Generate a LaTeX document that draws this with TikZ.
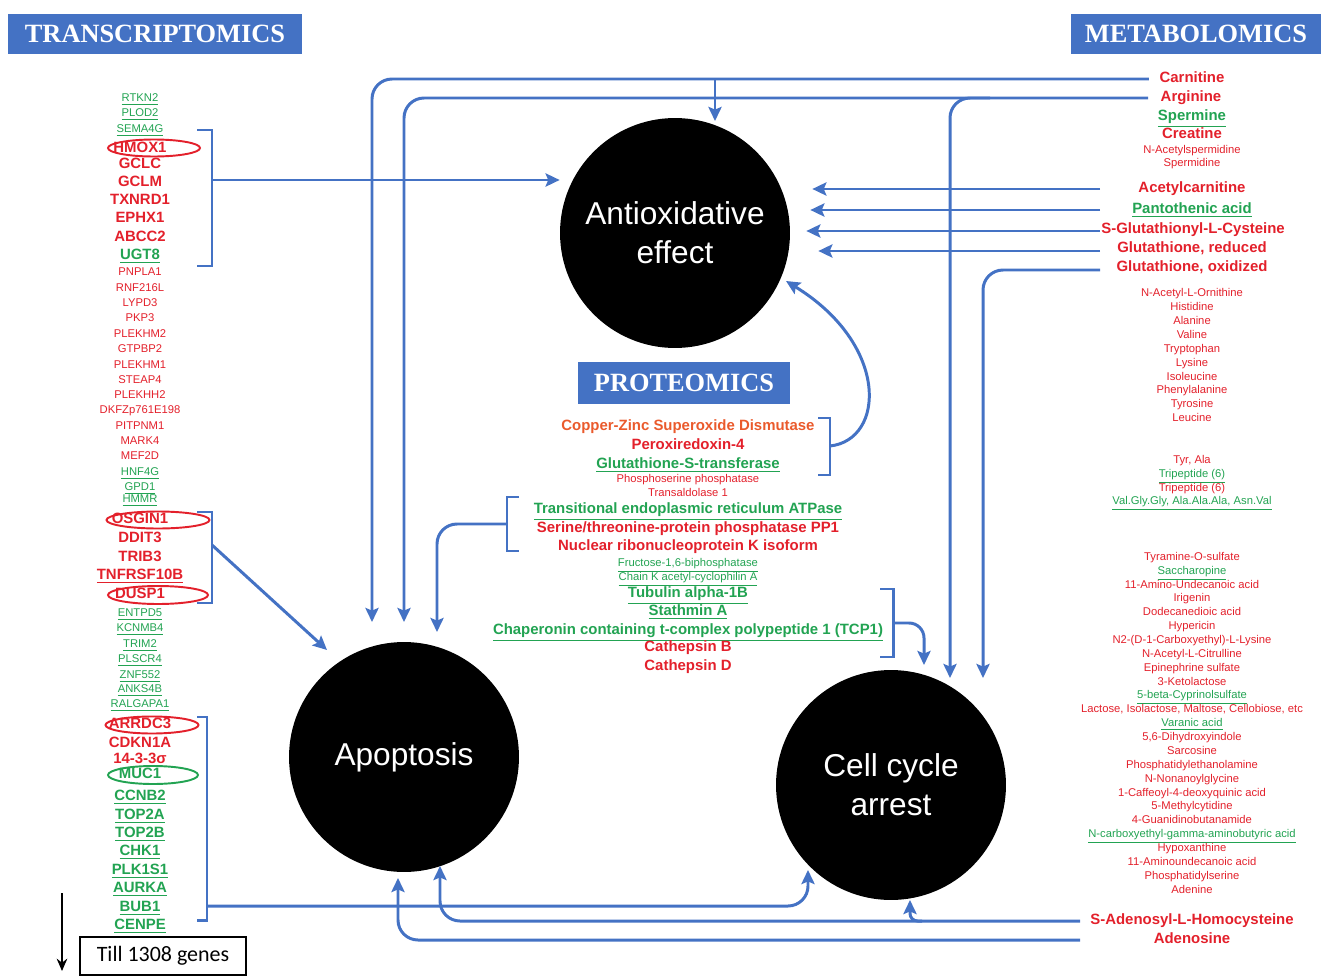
\documentclass[tikz,border=0pt]{standalone}
\usepackage{fontspec}
\setmainfont{Liberation Sans}
\newfontfamily\headfont{Liberation Serif}
\newfontfamily\tillfont{Carlito}
\usepackage{tikz}
\usetikzlibrary{arrows.meta,shapes.geometric}
\definecolor{hdblue}{HTML}{4472C4}
\definecolor{pathblue}{HTML}{4472C4}
\definecolor{upred}{HTML}{E3202B}
\definecolor{downgreen}{HTML}{22A352}
\definecolor{sodorange}{HTML}{EA5A2C}
\newcommand{\linethick}{1.7pt}
\newcommand{\px}{0.02cm}

\begin{document}
\begin{tikzpicture}[x=0.02cm, y=-0.02cm,
  every node/.style={inner sep=0pt},
  rb/.style={text=upred, text height=6.2pt, text depth=1.8pt, font=\bfseries\fontsize{8.5}{9}\selectfont},
  rs/.style={text=upred, text height=4.8pt, text depth=1.4pt, font=\fontsize{6.4}{7}\selectfont},
  gb/.style={rb, text=downgreen},
  gs/.style={rs, text=downgreen},
  head/.style={fill=hdblue, text=white, font=\headfont\bfseries\fontsize{15}{16}\selectfont, minimum height=0.82cm},
  effect/.style={circle, fill=black, text=white, minimum size=4.6cm, align=center, font=\fontsize{18}{22}\selectfont},
  link/.style={draw=pathblue, line width=\linethick, rounded corners=0.4cm},
  arr/.style={link, -{Stealth[length=8pt,width=7.5pt,inset=1.5pt]}},
  brace/.style={draw=pathblue, line width=\linethick},
  ring/.style={ellipse, draw=upred, line width=1.1pt}]
\useasboundingbox (0,0) rectangle (1323,977);

% headers
\node[head, minimum width=5.88cm] (transhead) at (155,34) {TRANSCRIPTOMICS};
\node[head, minimum width=5cm] (metahead) at (1196,34) {METABOLOMICS};
\node[head, minimum width=4.24cm, minimum height=0.86cm] (protehead) at (684,383) {PROTEOMICS};

% effects
\node[effect] (anti) at (675,233) {Antioxidative\\effect};
\node[effect] (apop) at (404,757) {Apoptosis};
\node[effect] (cell) at (891,785) {Cell cycle\\arrest};

% transcriptomics
\node[gs] (rtkn) at (140,99) {\underline{RTKN2}};
\node[gs] (plod) at (140,114) {\underline{PLOD2}};
\node[gs] (sema) at (140,130) {\underline{SEMA4G}};
\node[rb] (hmox) at (140,149) {HMOX1};
\node[rb] (gclc) at (140,165) {GCLC};
\node[rb] (gclm) at (140,183) {GCLM};
\node[rb] (txnrd) at (140,201) {TXNRD1};
\node[rb] (ephx) at (140,219) {EPHX1};
\node[rb] (abcc) at (140,238) {ABCC2};
\node[gb] (ugt) at (140,256) {\underline{UGT8}};
\node[rs] (pnpla) at (140,273) {PNPLA1};
\node[rs] (rnf) at (140,289) {RNF216L};
\node[rs] (lypd) at (140,304) {LYPD3};
\node[rs] (pkp) at (140,319) {PKP3};
\node[rs] (plekhmb) at (140,335) {PLEKHM2};
\node[rs] (gtpbp) at (140,350) {GTPBP2};
\node[rs] (plekhma) at (140,366) {PLEKHM1};
\node[rs] (steap) at (140,381) {STEAP4};
\node[rs] (plekhh) at (140,396) {PLEKHH2};
\node[rs] (dkfz) at (140,411) {DKFZp761E198};
\node[rs] (pitpnm) at (140,427) {PITPNM1};
\node[rs] (mark) at (140,442) {MARK4};
\node[rs] (mef) at (140,457) {MEF2D};
\node[gs] (hnf) at (140,473) {\underline{HNF4G}};
\node[gs] (gpd) at (140,488) {\underline{GPD1}};
\node[gs] (hmmr) at (140,500) {\underline{HMMR}};
\node[rb] (osgin) at (140,520) {OSGIN1};
\node[rb] (ddit) at (140,539) {DDIT3};
\node[rb] (trib) at (140,558) {TRIB3};
\node[rb] (tnfrsf) at (140,576) {\underline{TNFRSF10B}};
\node[rb] (dusp) at (140,595) {DUSP1};
\node[gs] (entpd) at (140,614) {\underline{ENTPD5}};
\node[gs] (kcnmb) at (140,629) {\underline{KCNMB4}};
\node[gs] (trim) at (140,645) {\underline{TRIM2}};
\node[gs] (plscr) at (140,660) {\underline{PLSCR4}};
\node[gs] (znf) at (140,676) {\underline{ZNF552}};
\node[gs] (anks) at (140,690) {\underline{ANKS4B}};
\node[gs] (ralgapa) at (140,705) {\underline{RALGAPA1}};
\node[rb] (arrdc) at (140,725) {ARRDC3};
\node[rb] (cdkn) at (140,744) {CDKN1A};
\node[rb] (sigma) at (140,760) {14-3-3σ};
\node[gb] (muc) at (140,775) {MUC1};
\node[gb] (ccnb) at (140,797) {\underline{CCNB2}};
\node[gb] (topa) at (140,816) {\underline{TOP2A}};
\node[gb] (topb) at (140,834) {\underline{TOP2B}};
\node[gb] (chk) at (140,852) {\underline{CHK1}};
\node[gb] (plk) at (140,871) {\underline{PLK1S1}};
\node[gb] (aurka) at (140,889) {\underline{AURKA}};
\node[gb] (bub) at (140,908) {\underline{BUB1}};
\node[gb] (cenpe) at (140,926) {\underline{CENPE}};
\node[ring, minimum width=92*\px, minimum height=17*\px] (hmoxring) at (154,148) {};
\node[ring, minimum width=103*\px, minimum height=17*\px] (osginring) at (158,520) {};
\node[ring, minimum width=100*\px, minimum height=18*\px] (duspring) at (158,595) {};
\node[ring, minimum width=93*\px, minimum height=17*\px] (arrdcring) at (152,725) {};
\node[ring, draw=downgreen, minimum width=90*\px, minimum height=18*\px] (mucring) at (153,775) {};
\node[draw, line width=0.9pt, minimum width=3.32cm, minimum height=0.76cm, font=\tillfont\fontsize{12.5}{14}\selectfont] (till) at (163,956) {Till 1308 genes};
\coordinate (listtop) at (62,893);
\coordinate (listend) at (62,971);
\draw[line width=1.2pt, -{Stealth[length=7pt,width=6pt]}] (listtop) -- (listend);

% proteomics
\node[rb, text=sodorange] (sod) at (688,427) {Copper-Zinc Superoxide Dismutase};
\node[rb] (prdx) at (688,446) {Peroxiredoxin-4};
\node[gb] (gst) at (688,465) {\underline{Glutathione-S-transferase}};
\node[rs] (psph) at (688,480) {Phosphoserine phosphatase};
\node[rs] (taldo) at (688,494) {Transaldolase 1};
\node[gb] (vcp) at (688,510) {\underline{Transitional endoplasmic reticulum ATPase}};
\node[rb] (ppp) at (688,529) {Serine/threonine-protein phosphatase PP1};
\node[rb] (hnrnpk) at (688,547) {Nuclear ribonucleoprotein K isoform};
\node[gs] (fbp) at (688,564) {\underline{Fructose-1,6-biphosphatase}};
\node[gs] (cyclo) at (688,578) {\underline{Chain K acetyl-cyclophilin A}};
\node[gb] (tuba) at (688,594) {\underline{Tubulin alpha-1B}};
\node[gb] (stmn) at (688,612) {\underline{Stathmin A}};
\node[gb] (tcp) at (688,631) {\underline{Chaperonin containing t-complex polypeptide 1 (TCP1)}};
\node[rb] (ctsb) at (688,648) {Cathepsin B};
\node[rb] (ctsd) at (688,667) {Cathepsin D};

% metabolomics
\node[rb] (carn) at (1192,79) {Carnitine};
\node[rb] (argi) at (1191,98) {Arginine};
\node[gb] (sperm) at (1192,117) {\underline{Spermine}};
\node[rb] (creat) at (1192,135) {Creatine};
\node[rs] (acspd) at (1192,151) {N-Acetylspermidine};
\node[rs] (spd) at (1192,164) {Spermidine};
\node[rb] (acetyl) at (1192,189) {Acetylcarnitine};
\node[gb] (panto) at (1192,210) {\underline{Pantothenic acid}};
\node[rb] (glucys) at (1193,230) {S-Glutathionyl-L-Cysteine};
\node[rb] (glured) at (1192,249) {Glutathione, reduced};
\node[rb] (gluox) at (1192,268) {Glutathione, oxidized};
\node[rs] (acorn) at (1192,294) {N-Acetyl-L-Ornithine};
\node[rs] (his) at (1192,308) {Histidine};
\node[rs] (ala) at (1192,322) {Alanine};
\node[rs] (val) at (1192,336) {Valine};
\node[rs] (trp) at (1192,350) {Tryptophan};
\node[rs] (lys) at (1192,364) {Lysine};
\node[rs] (ile) at (1192,378) {Isoleucine};
\node[rs] (phe) at (1192,391) {Phenylalanine};
\node[rs] (tyr) at (1192,405) {Tyrosine};
\node[rs] (leu) at (1192,419) {Leucine};
\node[rs] (tyrala) at (1192,461) {Tyr, Ala};
\node[gs] (tripa) at (1192,475) {\underline{Tripeptide (6)}};
\node[rs] (tripb) at (1192,489) {Tripeptide (6)};
\node[gs] (valgly) at (1192,502) {\underline{Val.Gly.Gly, Ala.Ala.Ala, Asn.Val}};
\node[rs] (tyram) at (1192,558) {Tyramine-O-sulfate};
\node[gs] (sacch) at (1192,572) {\underline{Saccharopine}};
\node[rs] (amund) at (1192,586) {11-Amino-Undecanoic acid};
\node[rs] (irig) at (1192,599) {Irigenin};
\node[rs] (dodec) at (1192,613) {Dodecanedioic acid};
\node[rs] (hyper) at (1192,627) {Hypericin};
\node[rs] (carbox) at (1192,641) {N2-(D-1-Carboxyethyl)-L-Lysine};
\node[rs] (citr) at (1192,655) {N-Acetyl-L-Citrulline};
\node[rs] (epin) at (1192,669) {Epinephrine sulfate};
\node[rs] (ketol) at (1192,683) {3-Ketolactose};
\node[gs] (cyprin) at (1192,696) {\underline{5-beta-Cyprinolsulfate}};
\node[rs] (lact) at (1192,710) {Lactose, Isolactose, Maltose, Cellobiose, etc};
\node[gs] (varan) at (1192,724) {\underline{Varanic acid}};
\node[rs] (dhi) at (1192,738) {5,6-Dihydroxyindole};
\node[rs] (sarc) at (1192,752) {Sarcosine};
\node[rs] (pe) at (1192,766) {Phosphatidylethanolamine};
\node[rs] (nong) at (1192,780) {N-Nonanoylglycine};
\node[rs] (caff) at (1192,794) {1-Caffeoyl-4-deoxyquinic acid};
\node[rs] (mcyt) at (1192,807) {5-Methylcytidine};
\node[rs] (guan) at (1192,821) {4-Guanidinobutanamide};
\node[gs] (gaba) at (1192,835) {\underline{N-carboxyethyl-gamma-aminobutyric acid}};
\node[rs] (hypox) at (1192,849) {Hypoxanthine};
\node[rs] (amino) at (1192,863) {11-Aminoundecanoic acid};
\node[rs] (ps) at (1192,877) {Phosphatidylserine};
\node[rs] (adenine) at (1192,891) {Adenine};
\node[rb] (sam) at (1192,921) {S-Adenosyl-L-Homocysteine};
\node[rb] (adeno) at (1192,940) {Adenosine};

% brackets
\draw[brace] (197,130) -| (212,266) -- (197,266);
\draw[brace] (197,512) -| (212,603) -- (197,603);
\draw[brace] (197,717) -| (207,920) -- (197,920);
\draw[brace] (818,418) -| (830,475) -- (818,475);
\draw[brace] (519,497) -| (507,551) -- (519,551);
\draw[brace] (880,589) -| (893,657) -- (880,657);
\coordinate (hmoxbr) at (212,180);
\coordinate (osginbr) at (212,545);
\coordinate (arrdcbr) at (207,906);
\coordinate (sodbr) at (830,446);
\coordinate (vcpbr) at (507,524);
\coordinate (tubabr) at (893,623);

% arrow ends
\coordinate (apin0) at (327,650);
\coordinate (apin1) at (372,622);
\coordinate (apin2) at (404,622);
\coordinate (apin3) at (437,632);
\coordinate (apin4) at (440,866);
\coordinate (apin5) at (398,878);
\coordinate (antiin1) at (715,121);
\coordinate (antiin2) at (786,281);
\coordinate (ccin1) at (950,678);
\coordinate (ccin2) at (983,678);
\coordinate (ccin3) at (924,665);
\coordinate (ccin4) at (808,870);
\coordinate (ccin5) at (910,900);
\coordinate (carnsplit) at (715,79);
\coordinate (argisplit) at (990,98);
\coordinate (samsplit) at (922,921);
\coordinate (acetylout) at (1100,189);
\coordinate (pantoout) at (1100,210);
\coordinate (glucysout) at (1100,231);
\coordinate (gluredout) at (1100,251);
\coordinate (gluoxout) at (1100,270);
\coordinate (samout) at (1080,921);
\coordinate (adenoout) at (1080,940);

% connectors
\draw[arr, shorten <=6pt] (carn.west) -| (apin1);
\draw[arr] (carnsplit) -- (antiin1);
\draw[arr, shorten <=7pt] (argi.west) -| (apin2);
\draw[arr] (argisplit) -| (ccin1);
\draw[arr, shorten >=22*\px] (acetylout) -- (anti.east |- acetylout);
\draw[arr, shorten >=20*\px] (pantoout) -- (anti.east |- pantoout);
\draw[arr, shorten >=16*\px] (glucysout) -- (anti.east |- glucysout);
\draw[arr, shorten >=28*\px] (gluredout) -- (anti.east |- gluredout);
\draw[arr] (gluoxout) -| (ccin2);
\draw[arr] (hmoxbr) -- (anti.west |- hmoxbr);
\draw[arr] (osginbr) -- (apin0);
\draw[arr] (arrdcbr) -| (ccin4);
\draw[arr] (sodbr) .. controls (885,440) and (890,345) .. (antiin2);
\draw[arr] (vcpbr) -| (apin3);
\draw[arr, rounded corners=0.3cm] (tubabr) -| (ccin3);
\draw[arr] (samout) -| (apin4);
\draw[arr, rounded corners=0.15cm] (samsplit) -| (ccin5);
\draw[arr] (adenoout) -| (apin5);
\end{tikzpicture}
\end{document}
